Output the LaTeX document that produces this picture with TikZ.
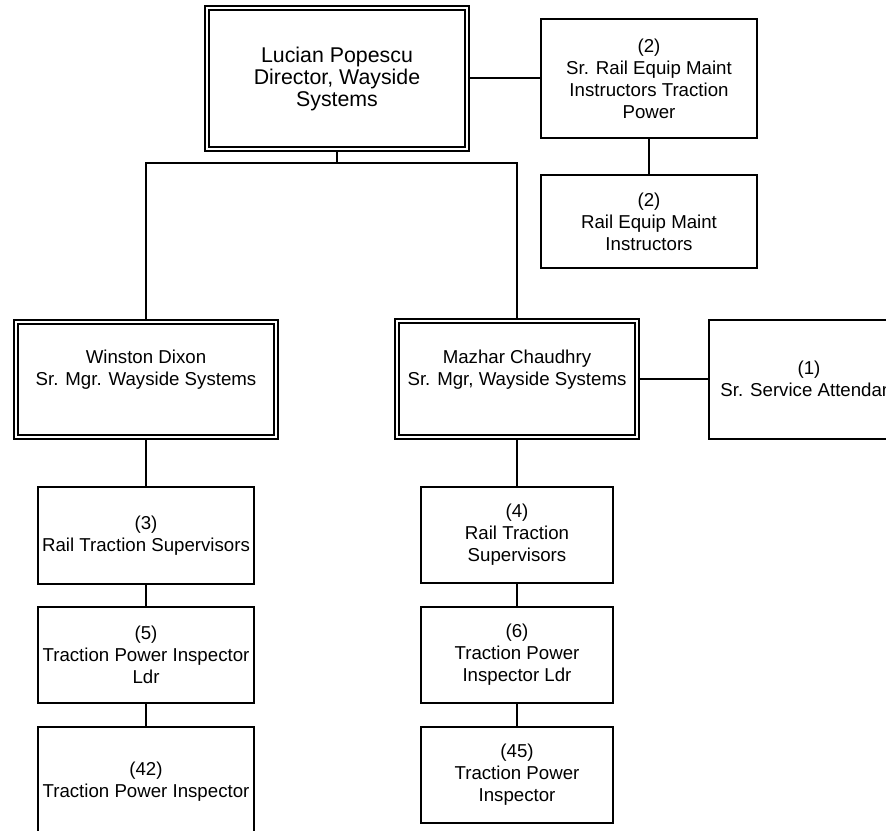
\documentclass[tikz,border=0pt]{standalone}
\usepackage{fontspec}
\setmainfont{Liberation Sans}
\usepackage{tikz}
\usetikzlibrary{positioning,calc}

\begin{document}
\begin{tikzpicture}[x=0.75pt, y=-0.75pt,
   unit/.style={draw, line width=1.5pt, align=center, inner sep=2pt,
                font=\fontsize{14}{16.5}\selectfont},
   head/.style={unit, double, line width=1.1pt, double distance=1.9pt, outer sep=2.05pt},
   link/.style={line width=1.5pt}]
\useasboundingbox (0,0) rectangle (886,831);
\clip (0,0) rectangle (886,831);
% director and his staff
\node[head, minimum width=195pt, minimum height=105.75pt, font=\fontsize{16}{16.5}\selectfont]
   (dir) at (337,78.5) {Lucian Popescu\\Director, Wayside\\Systems};
\node[unit, minimum width=162pt, minimum height=89.25pt] (srinst) at (649,78.5)
   {(2)\\Sr. Rail Equip Maint\\Instructors Traction\\Power};
\node[unit, minimum width=162pt, minimum height=69.75pt] (inst) at (649,221.5)
   {(2)\\Rail Equip Maint\\Instructors};
\draw[link] (dir.east) -- (srinst.west);
\draw[link] (srinst) -- (inst);
% senior managers
\node[head, minimum width=195pt, minimum height=86.25pt] (dixon) at (146,379.5)
   {Winston Dixon\\Sr. Mgr. Wayside Systems\\[-4pt]\strut};
\node[head, minimum width=180pt, minimum height=87pt] (chaud) at (517,379)
   {Mazhar Chaudhry\\Sr. Mgr, Wayside Systems\\[-4pt]\strut};
\node[unit, minimum width=150pt, minimum height=89.25pt] (attend) at (809,379)
   {(1)\\Sr. Service Attendant};
\coordinate (bus) at (337,163);
\draw[link] (dir) -- (bus);
\draw[link] (dixon.north) |- (bus) -| (chaud.north);
\draw[link] (chaud) -- (attend);
% left column: traction crews under Dixon
\node[unit, minimum width=162pt, minimum height=72.75pt] (supa) at (146,535.5)
   {(3)\\Rail Traction Supervisors};
\node[unit, minimum width=162pt, minimum height=72pt] (ldra) at (146,655)
   {(5)\\Traction Power Inspector\\Ldr};
\node[unit, minimum width=162pt, minimum height=82.5pt] (insa) at (146,782)
   {(42)\\Traction Power Inspector};
\draw[link] (dixon) -- (supa);
\draw[link] (supa) -- (ldra);
\draw[link] (ldra) -- (insa);
% right column: traction crews under Chaudhry
\node[unit, minimum width=144pt, minimum height=72pt] (supb) at (517,535)
   {(4)\\Rail Traction\\Supervisors};
\node[unit, minimum width=144pt, minimum height=72pt] (ldrb) at (517,655)
   {(6)\\Traction Power\\Inspector Ldr};
\node[unit, minimum width=144pt, minimum height=72pt] (insb) at (517,775)
   {(45)\\Traction Power\\Inspector};
\draw[link] (chaud) -- (supb);
\draw[link] (supb) -- (ldrb);
\draw[link] (ldrb) -- (insb);
\end{tikzpicture}
\end{document}
